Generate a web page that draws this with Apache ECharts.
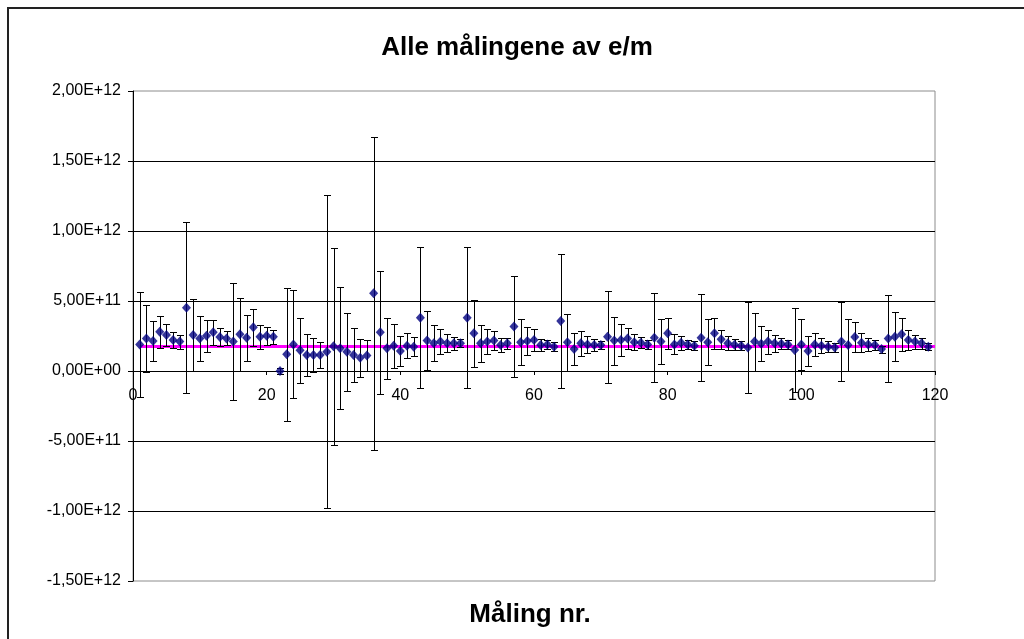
<!DOCTYPE html>
<html>
<head>
<meta charset="utf-8">
<script src="https://cdn.jsdelivr.net/npm/echarts@6/dist/echarts.min.js"></script>
<style>html,body{margin:0;padding:0;background:#fff}#c{width:1024px;height:639px}</style>
</head>
<body>
<div id="c"></div>
<script>
// values in units of 1e12
var UNIT = 1e12;
var measurementValues = [
0.19,0.233,0.214,0.281,0.257,0.221,0.21,0.452,0.257,0.233,
0.252,0.276,0.243,0.233,0.21,0.262,0.238,0.312,0.245,0.252,
0.245,0.0,0.119,0.19,0.148,0.114,0.114,0.114,0.138,0.176,
0.162,0.138,0.114,0.095,0.11,0.555,0.276,0.162,0.181,0.143,
0.181,0.174,0.381,0.217,0.198,0.21,0.198,0.198,0.198,0.381,
0.269,0.198,0.21,0.217,0.186,0.198,0.317,0.205,0.214,0.221,
0.186,0.19,0.174,0.357,0.205,0.157,0.198,0.19,0.186,0.186,
0.245,0.217,0.221,0.233,0.205,0.202,0.19,0.238,0.21,0.269,
0.19,0.202,0.19,0.181,0.238,0.205,0.269,0.226,0.198,0.188,
0.181,0.167,0.21,0.195,0.21,0.198,0.195,0.19,0.15,0.19,
0.143,0.19,0.181,0.174,0.167,0.21,0.186,0.243,0.202,0.19,
0.186,0.157,0.233,0.245,0.262,0.221,0.21,0.198,0.174
];
var measurementErrors = [
0.376,0.238,0.143,0.114,0.076,0.06,0.05,0.61,0.26,0.16,
0.113,0.09,0.062,0.05,0.418,0.262,0.165,0.13,0.085,0.065,
0.05,0.02,0.474,0.386,0.233,0.152,0.12,0.093,1.12,0.705,
0.435,0.279,0.19,0.135,0.11,1.117,0.44,0.217,0.157,0.105,
0.088,0.068,0.502,0.212,0.13,0.092,0.065,0.045,0.03,0.505,
0.238,0.131,0.09,0.069,0.05,0.04,0.363,0.163,0.1,0.078,
0.045,0.035,0.03,0.48,0.205,0.115,0.088,0.06,0.04,0.03,
0.328,0.172,0.112,0.075,0.058,0.04,0.03,0.318,0.163,0.113,
0.072,0.05,0.035,0.03,0.31,0.163,0.113,0.07,0.05,0.04,
0.03,0.327,0.207,0.125,0.086,0.06,0.04,0.03,0.3,0.18,
0.105,0.08,0.055,0.04,0.03,0.283,0.185,0.107,0.068,0.045,
0.035,0.025,0.31,0.175,0.117,0.07,0.05,0.04,0.025
];
var meanValue = 0.175;
var meanLineX = [1, 120];
var xTicks = [0, 20, 40, 60, 80, 100, 120];
var yTicks = [-1.5, -1.0, -0.5, 0, 0.5, 1.0, 1.5, 2.0];

var points = measurementValues.map(function (v, i) { return [i + 1, v * UNIT]; });
var bars = measurementValues.map(function (v, i) {
  return [i + 1, (v - measurementErrors[i]) * UNIT, (v + measurementErrors[i]) * UNIT];
});

function fmtSci(v) {
  if (v === 0) return '0,00E+00';
  var s = v < 0 ? '-' : '';
  var a = Math.abs(v);
  var e = Math.floor(Math.log10(a) + 1e-9);
  var m = a / Math.pow(10, e);
  var es = (e < 0 ? '-' : '+') + (Math.abs(e) < 10 ? '0' : '') + Math.abs(e);
  return s + m.toFixed(2).replace('.', ',') + 'E' + es;
}

var GRID_TOP = 91, GRID_BOTTOM = 58, H = 639;
var plotH = H - GRID_TOP - GRID_BOTTOM;
// distance from bottom edge of plot to the zero line, so x axis sits at y = 0
var zeroOffset = plotH * (0 - yTicks[0]) / (yTicks[yTicks.length - 1] - yTicks[0]);

var chart = echarts.init(document.getElementById('c'));
chart.setOption({
  animation: false,
  backgroundColor: '#fff',
  title: [
    { text: 'Alle målingene av e/m', left: 512, top: 30, textAlign: 'center',
      textStyle: { fontFamily: 'Liberation Sans, Arial', fontWeight: 'bold', fontSize: 26, color: '#000' } },
    { text: 'Måling nr.', left: 525, top: 597, textAlign: 'center',
      textStyle: { fontFamily: 'Liberation Sans, Arial', fontWeight: 'bold', fontSize: 26, color: '#000' } }
  ],
  graphic: [
    { type: 'rect', shape: { x: 8, y: 8, width: 1040, height: 660 },
      style: { fill: 'none', stroke: '#222', lineWidth: 2 }, silent: true, z: 100 }
  ],
  grid: { left: 133, right: 89, top: GRID_TOP, bottom: GRID_BOTTOM, show: true, borderColor: '#8c8c8c', borderWidth: 1, backgroundColor: '#fff' },
  xAxis: {
    type: 'value', min: 0, max: 120, interval: 20,
    position: 'bottom', offset: -zeroOffset,
    axisLine: { onZero: false, lineStyle: { color: '#000', width: 1 } },
    axisTick: { show: true, inside: false, length: 4, lineStyle: { color: '#000' } },
    axisLabel: { color: '#000', fontFamily: 'Liberation Sans, Arial', fontSize: 16, margin: 17,
      formatter: function (v) { return xTicks.indexOf(v) >= 0 ? String(v) : ''; } },
    splitLine: { show: false }
  },
  yAxis: {
    type: 'value', min: yTicks[0] * UNIT, max: yTicks[yTicks.length - 1] * UNIT, interval: 0.5 * UNIT,
    axisLine: { show: true, lineStyle: { color: '#000', width: 1 } },
    axisTick: { show: true, inside: false, length: 5, lineStyle: { color: '#000' } },
    axisLabel: { color: '#000', fontFamily: 'Liberation Sans, Arial', fontSize: 16, margin: 12,
      formatter: function (v) { return fmtSci(v); } },
    splitLine: { show: true, showMinLine: false, showMaxLine: false, lineStyle: { color: '#000', width: 1 } }
  },
  series: [
    {
      type: 'line', data: meanLineX.map(function (x) { return [x, meanValue * UNIT]; }),
      showSymbol: false, symbol: 'none', lineStyle: { color: '#ff00ff', width: 3 }, z: 2
    },
    {
      type: 'custom', data: bars, z: 3,
      renderItem: function (params, api) {
        var x = api.value(0);
        var lo = api.coord([x, api.value(1)]);
        var hi = api.coord([x, api.value(2)]);
        var px = Math.round(lo[0]) + 0.5;
        var ly = Math.round(lo[1]) + 0.5;
        var hy = Math.round(hi[1]) + 0.5;
        var c = 3.5;
        return {
          type: 'group',
          children: [
            { type: 'line', shape: { x1: px, y1: ly, x2: px, y2: hy }, style: { stroke: '#000', lineWidth: 1 } },
            { type: 'line', shape: { x1: px - c, y1: ly, x2: px + c, y2: ly }, style: { stroke: '#000', lineWidth: 1 } },
            { type: 'line', shape: { x1: px - c, y1: hy, x2: px + c, y2: hy }, style: { stroke: '#000', lineWidth: 1 } }
          ]
        };
      }
    },
    {
      type: 'scatter', data: points, symbol: 'diamond', symbolSize: [9, 10],
      itemStyle: { color: '#000080' }, z: 4
    }
  ]
});
</script>
</body>
</html>
